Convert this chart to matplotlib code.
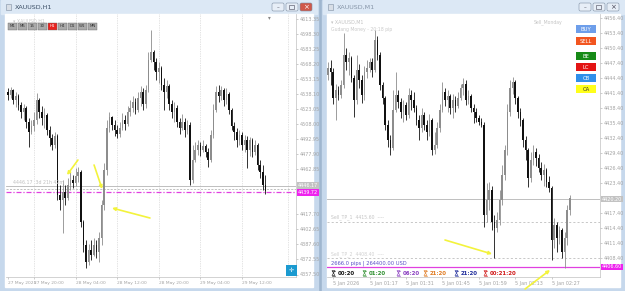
import matplotlib
matplotlib.use('Agg')
import matplotlib.pyplot as plt
import matplotlib.patches as patches
import numpy as np

W, H = 625, 291

# ---------------- XAUUSD,H1 (left window) ----------------
h1_open0 = 4540
h1_close = [4537, 4542, 4532, 4536, 4527, 4520, 4524, 4510, 4500, 4506,
            4512, 4532, 4520, 4514, 4517, 4502, 4494, 4487, 4496, 4437,
            4432, 4440, 4434, 4447, 4452, 4449, 4456, 4460, 4410, 4387,
            4370, 4382, 4377, 4387, 4380, 4394, 4427, 4462, 4504, 4515,
            4507, 4502, 4498, 4504, 4512, 4508, 4520, 4524, 4530, 4522,
            4534, 4540, 4528, 4542, 4572, 4580, 4570, 4560, 4564, 4547,
            4540, 4546, 4528, 4520, 4524, 4510, 4504, 4510, 4502, 4507,
            4452, 4472, 4482, 4487, 4482, 4486, 4480, 4472, 4497, 4522,
            4540, 4536, 4542, 4532, 4538, 4522, 4506, 4500, 4492, 4497,
            4487, 4492, 4482, 4492, 4480, 4487, 4467, 4460, 4447, 4441]
h1_high = [4544, 4545, 4543, 4540, 4538, 4530, 4528, 4526, 4514, 4512,
           4520, 4539, 4534, 4526, 4524, 4519, 4506, 4498, 4500, 4498,
           4447, 4452, 4447, 4454, 4460, 4457, 4464, 4465, 4462, 4412,
           4392, 4388, 4392, 4394, 4392, 4400, 4432, 4469, 4512, 4520,
           4516, 4512, 4507, 4510, 4519, 4517, 4526, 4532, 4536, 4534,
           4540, 4546, 4544, 4547, 4580, 4602, 4582, 4574, 4570, 4566,
           4554, 4552, 4548, 4532, 4530, 4527, 4514, 4518, 4514, 4512,
           4510, 4487, 4490, 4492, 4490, 4492, 4488, 4484, 4502, 4528,
           4546, 4547, 4546, 4544, 4544, 4540, 4524, 4510, 4504, 4502,
           4500, 4497, 4496, 4495, 4494, 4492, 4489, 4472, 4467, 4457]
h1_low = [4532, 4534, 4528, 4525, 4522, 4514, 4512, 4504, 4485, 4498,
          4501, 4508, 4514, 4507, 4504, 4497, 4486, 4482, 4484, 4432,
          4422, 4399, 4427, 4432, 4442, 4444, 4446, 4450, 4405, 4380,
          4364, 4367, 4372, 4376, 4374, 4370, 4387, 4422, 4457, 4500,
          4502, 4496, 4494, 4495, 4502, 4502, 4506, 4516, 4520, 4518,
          4520, 4526, 4522, 4524, 4540, 4570, 4562, 4552, 4549, 4542,
          4522, 4534, 4522, 4514, 4510, 4505, 4498, 4502, 4495, 4498,
          4447, 4449, 4470, 4477, 4476, 4480, 4475, 4465, 4470, 4494,
          4520, 4530, 4532, 4526, 4528, 4518, 4502, 4492, 4485, 4487,
          4482, 4480, 4464, 4476, 4475, 4477, 4462, 4454, 4442, 4438]
h1_date_pos = [0, 10, 26, 42, 58, 74, 90]
h1_dates = ['27 May 2025', '27 May 20:00', '28 May 04:00', '28 May 12:00',
            '28 May 20:00', '29 May 04:00', '29 May 12:00']
h1_grey_level = 4446.17
h1_dash_level = 4443.00
h1_bid = 4439.72
h1_tf = ['M1', 'M5', '15', '30', 'H1', 'H4', 'D1', 'W1', 'MN']

# ---------------- XAUUSD,M1 (right window) ----------------
m1_open0 = 4445.0
m1_close = [4446.4, 4445.6, 4440.4, 4442.0, 4441.0, 4443.0, 4449.0, 4447.6, 4448.4, 4444.4,
            4440.0, 4446.0, 4444.0, 4441.0, 4445.6, 4446.4, 4447.6, 4446.0, 4452.0, 4449.0,
            4443.0, 4440.4, 4435.0, 4432.0, 4430.4, 4438.0, 4441.0, 4439.6, 4437.6, 4439.0,
            4437.0, 4441.0, 4440.0, 4438.4, 4436.0, 4434.4, 4437.0, 4435.0, 4433.6, 4436.0,
            4430.0, 4431.0, 4434.4, 4438.0, 4441.6, 4440.0, 4440.8, 4438.4, 4440.0, 4438.8,
            4440.4, 4442.4, 4443.2, 4440.0, 4440.8, 4438.4, 4437.6, 4436.4, 4435.6, 4435.0,
            4417.0, 4420.0, 4422.0, 4415.6, 4414.4, 4416.0, 4420.0, 4425.0, 4430.0, 4437.6,
            4442.4, 4443.6, 4440.4, 4437.6, 4436.0, 4432.0, 4430.0, 4424.4, 4428.0, 4429.6,
            4428.4, 4426.4, 4425.0, 4426.0, 4423.6, 4422.4, 4412.0, 4415.0, 4412.4, 4414.0,
            4409.6, 4412.4, 4418.0, 4420.4]
m1_high = [4447.6, 4448.0, 4446.4, 4443.2, 4442.8, 4444.0, 4453.4, 4450.4, 4449.6, 4448.8,
           4445.0, 4449.0, 4447.2, 4445.0, 4446.8, 4448.0, 4448.4, 4448.4, 4454.0, 4452.8,
           4449.6, 4443.6, 4440.8, 4436.0, 4433.0, 4442.0, 4445.6, 4442.0, 4440.4, 4440.0,
           4439.6, 4442.4, 4442.0, 4441.6, 4439.0, 4437.0, 4438.4, 4437.6, 4436.0, 4437.2,
           4436.4, 4433.6, 4435.6, 4439.2, 4443.6, 4442.4, 4442.0, 4441.2, 4441.2, 4440.8,
           4441.6, 4443.2, 4444.4, 4444.0, 4442.0, 4441.2, 4439.2, 4438.4, 4437.0, 4436.4,
           4435.6, 4423.4, 4423.6, 4422.8, 4417.0, 4417.6, 4422.0, 4427.0, 4431.0, 4439.2,
           4444.0, 4444.6, 4444.0, 4440.8, 4438.4, 4436.4, 4432.8, 4430.4, 4429.6, 4431.0,
           4430.4, 4429.2, 4427.6, 4427.2, 4426.4, 4424.8, 4422.8, 4416.4, 4415.6, 4414.8,
           4414.4, 4413.6, 4419.0, 4421.0]
m1_low = [4444.0, 4443.0, 4439.2, 4436.0, 4440.0, 4440.4, 4442.4, 4446.0, 4445.0, 4443.6,
          4436.6, 4439.2, 4442.4, 4439.4, 4440.0, 4444.4, 4445.6, 4444.6, 4445.6, 4448.0,
          4442.0, 4439.2, 4434.0, 4430.6, 4429.0, 4430.0, 4437.6, 4438.4, 4436.4, 4435.6,
          4436.0, 4436.4, 4438.0, 4437.6, 4435.0, 4432.0, 4433.6, 4434.0, 4432.0, 4432.8,
          4429.0, 4429.2, 4430.4, 4433.6, 4437.6, 4438.8, 4437.6, 4437.2, 4436.4, 4437.6,
          4438.4, 4440.0, 4441.0, 4439.0, 4439.2, 4437.6, 4435.4, 4435.6, 4435.0, 4434.6,
          4414.6, 4415.6, 4418.0, 4414.0, 4408.4, 4413.6, 4415.0, 4419.0, 4424.0, 4429.0,
          4436.8, 4441.2, 4439.2, 4436.4, 4434.8, 4430.6, 4428.0, 4422.6, 4423.6, 4427.0,
          4426.8, 4425.6, 4424.0, 4422.8, 4422.6, 4421.6, 4408.0, 4410.4, 4409.6, 4411.2,
          4408.4, 4406.4, 4411.0, 4417.0]
m1_date_pos = [2, 16, 30, 44, 58, 72, 86]
m1_dates = ['5 Jan 2026', '5 Jan 01:17', '5 Jan 01:31', '5 Jan 01:45',
            '5 Jan 01:59', '5 Jan 02:13', '5 Jan 02:27']
m1_grey_level = 4420.20
m1_dash_levels = [4415.60, 4408.40]
m1_bid = 4406.60
m1_buttons = ['BUY', 'SELL', 'BE', 'LC', 'CB', 'CA']
m1_button_colors = ['#6d9eea', '#f2551f', '#168a16', '#e31414', '#2f8fea', '#ffff1a']
m1_timers = ['00:20', '01:20', '06:20', '21:20', '21:20', '00:21:20']
m1_timer_colors = ['#111111', '#2f8f2f', '#8a3fc0', '#e07a20', '#1d2a9a', '#d01515']

BULL = '#8d8d8d'
BEAR = '#111111'
GRID = '#c8c8c8'
LBL = '#a4a4a4'
SYM = ['DejaVu Sans', 'Noto Sans CJK JP', 'Noto Sans CJK SC']


def rect(x0, y0, x1, y1):
    return [x0 / W, 1 - y1 / H, (x1 - x0) / W, (y1 - y0) / H]


def draw_candles(ax, open0, closes, highs, lows, min_body):
    closes = np.array(closes, dtype=float)
    opens = np.r_[open0, closes[:-1]]
    idx = np.arange(len(closes))
    cols = np.where(closes >= opens, BULL, BEAR)
    ax.vlines(idx, lows, highs, colors=cols, lw=0.6, zorder=3)
    body = np.maximum(np.abs(closes - opens), min_body)
    ax.bar(idx, body, bottom=np.minimum(opens, closes), width=0.62,
           color=cols, lw=0, zorder=3)


def price_axis(ax, ticks, boxes, px_per_unit):
    # drop scale labels hidden under the coloured price boxes
    keep = [t for t in ticks if all(abs(t - b) * px_per_unit > 7 for b, _ in boxes)]
    ax.set_yticks(keep)
    ax.set_yticklabels(['%.2f' % v for v in keep])
    ax.yaxis.tick_right()
    for lvl, fc in boxes:
        ax.text(1.006, lvl, '%.2f' % lvl, transform=ax.get_yaxis_transform(), fontsize=3.5, color='white',
                va='center', ha='left', bbox=dict(fc=fc, ec='none', pad=0.7), zorder=6)


fig = plt.figure(figsize=(W / 100, H / 100), dpi=100)

# background / window frames
bg = fig.add_axes([0, 0, 1, 1])
bg.set_xlim(0, W)
bg.set_ylim(H, 0)
bg.axis('off')
bg.add_patch(patches.Rectangle((0, 0), W, H, color='#9fb6cf'))
for x0, x1, title, tcol in [(0, 318, 'XAUUSD,H1', '#3c4f66'), (322, 625, 'XAUUSD,M1', '#8796a8')]:
    bg.add_patch(patches.Rectangle((x0, 0), x1 - x0, H, color='#c6d8ec'))
    bg.add_patch(patches.Rectangle((x0 + 1, 0), x1 - x0 - 2, 14, color='#dce8f5'))
    bg.add_patch(patches.Rectangle((x0 + 5, 14), x1 - x0 - 10, 273, color='white'))
    bg.add_patch(patches.Rectangle((x0 + 6, 4), 5, 6, fc='#d8dee6', ec='#7f8fa3', lw=0.4))
    bg.text(x0 + 15, 7, title, fontsize=4.6, color=tcol, va='center')
    bx = x1 - 46
    for k, fc in enumerate(['#e7eef7', '#e7eef7', '#d0584a' if x0 == 0 else '#e7eef7']):
        bg.add_patch(patches.FancyBboxPatch((bx + k * 14, 3), 12, 8, boxstyle='round,pad=0,rounding_size=1.5',
                                            fc=fc, ec='#7d8ea3', lw=0.4))
    bg.text(bx + 6, 7.5, '\u2013', fontsize=4, color='#445', ha='center', va='center')
    bg.add_patch(patches.Rectangle((bx + 17, 5), 5, 4, fc='none', ec='#445', lw=0.4))
    bg.text(bx + 34, 7, '\u00d7', fontsize=5, color='white' if x0 == 0 else '#445', ha='center', va='center')

# ---------------- left chart ----------------
ax1 = fig.add_axes(rect(6, 14, 296, 277))
ax1.set_facecolor('none')
ax1.set_xlim((6 - 8) / 2.6, (296 - 8) / 2.6)
ax1.set_ylim(4632 - 277, 4632 - 14)
draw_candles(ax1, h1_open0, h1_close, h1_high, h1_low, 0.8)
for p in h1_date_pos[1:] + [107.7]:
    ax1.axvline(p, color=GRID, lw=0.5, ls=(0, (1, 1.5)), zorder=1)
ax1.axhline(h1_grey_level, color='#b4b4b4', lw=0.6, zorder=2)
ax1.axhline(h1_dash_level, color='#a8a8a8', lw=0.5, ls=(0, (3, 2)), zorder=2)
ax1.axhline(h1_bid, color='#e040e0', lw=0.9, ls=(0, (4, 1.5, 1, 1.5)), zorder=2)
ax1.text(2, h1_grey_level + 1, '4446.17  3d 21h 42m', fontsize=3.4, color='#c0c0c0', va='bottom')
ax1.text(2, 4611, '\u25be XAUUSD,H1', fontsize=3.4, color='#c8c8c8', va='center')
ax1.text(100, 4614, '\u25be', fontsize=4, color='#888', va='center')

price_axis(ax1, list(4613.35 - 15.05 * np.arange(18)),
           [(h1_grey_level, '#c2c2c2'), (h1_bid, '#ee22ee')], 1.0)
ax1.set_xticks(h1_date_pos)
ax1.set_xticklabels(h1_dates, ha='left')
ax1.tick_params(axis='both', labelsize=3.5, colors=LBL, length=1.5, width=0.4, pad=1.5)
ax1.tick_params(axis='x', labelsize=3.2)
for s in ['top', 'left']:
    ax1.spines[s].set_visible(False)
for s in ['right', 'bottom']:
    ax1.spines[s].set_color('#c0c0c0')
    ax1.spines[s].set_linewidth(0.5)

# ---------------- right chart ----------------
ax2 = fig.add_axes(rect(327, 14, 600, 277))
ax2.set_facecolor('none')
ax2.set_xlim((327 - 328) / 2.6, (600 - 328) / 2.6)
ax2.set_ylim(4460 - 277 / 5, 4460 - 14 / 5)
draw_candles(ax2, m1_open0, m1_close, m1_high, m1_low, 0.16)
ax2.axhline(m1_grey_level, color='#b4b4b4', lw=0.6, zorder=2)
for lvl in m1_dash_levels:
    ax2.axhline(lvl, color='#b0b0b0', lw=0.5, ls=(0, (3, 3)), zorder=2)
ax2.axhline(m1_bid, color='#e040e0', lw=0.9, zorder=2)
ax2.text(1, m1_dash_levels[0] + 0.3, 'Sell_TP_1  4415.60  ----', fontsize=3.3, color='#c4c4c4', va='bottom')
ax2.text(1, m1_dash_levels[1] + 0.3, 'Sell_TP_2  4408.40  ----', fontsize=3.3, color='#d0d0d0', va='bottom')
ax2.text(1, 4455.6, '\u25be XAUUSD,M1', fontsize=3.4, color='#c4c4c4', va='center')
ax2.text(1, 4454.0, 'Gudang Money - 20:18 pip', fontsize=3.3, color='#cacaca', va='center')
ax2.text(90, 4455.6, 'Sell_Monday', fontsize=3.3, color='#c4c4c4', va='center', ha='right')
ax2.text(1, m1_bid + 0.25, '2666.0 pips | 264400.00 USD', fontsize=3.7, color='#5a4fc8', va='bottom')

price_axis(ax2, list(4456.40 - 3.0 * np.arange(18)),
           [(m1_grey_level, '#c2c2c2'), (m1_bid, '#ee22ee')], 5.0)
ax2.set_xticks(m1_date_pos)
ax2.set_xticklabels(m1_dates, ha='left')
ax2.tick_params(axis='both', labelsize=3.5, colors=LBL, length=1.5, width=0.4, pad=1.5)
for s in ['top', 'left']:
    ax2.spines[s].set_visible(False)
for s in ['right', 'bottom']:
    ax2.spines[s].set_color('#c0c0c0')
    ax2.spines[s].set_linewidth(0.5)

# yellow arrows
arrow = dict(arrowstyle='-|>', color='#f3f33c', lw=1.2, mutation_scale=4.5, shrinkA=0, shrinkB=0)
for tail, head in [((26.9, 4472), (22.7, 4457)), ((33.1, 4467), (36.2, 4443)), ((54.6, 4414), (40.0, 4424))]:
    ax1.annotate('', xy=head, xytext=tail, arrowprops=arrow, zorder=8, annotation_clip=False)
for tail, head in [((45.0, 4412.0), (63.1, 4409.2)), ((75.8, 4402.2), (85.4, 4406.0))]:
    ax2.annotate('', xy=head, xytext=tail, arrowprops=arrow, zorder=8, annotation_clip=False)

# overlay: toolbar buttons, timers and navigation icon
ov = fig.add_axes([0, 0, 1, 1], zorder=10)
ov.set_xlim(0, W)
ov.set_ylim(H, 0)
ov.axis('off')
ov.patch.set_alpha(0)
for k, tf in enumerate(h1_tf):
    fc = '#e8231f' if tf == 'H1' else '#aaaaaa'
    ov.add_patch(patches.Rectangle((8 + k * 10, 23), 9, 6.5, fc=fc, ec='#6a6a6a', lw=0.3))
    ov.text(12.5 + k * 10, 26.4, tf, fontsize=2.9, color='white' if tf == 'H1' else '#333333',
            ha='center', va='center')
btn_y = [25, 37, 52, 63, 74, 85]
for lab, fc, y0 in zip(m1_buttons, m1_button_colors, btn_y):
    ov.add_patch(patches.Rectangle((576, y0), 20, 8, fc=fc, ec='none'))
    ov.text(586, y0 + 4.2, lab, fontsize=3.8, color='#333' if lab == 'CA' else 'white', ha='center', va='center')
ov.add_patch(patches.Rectangle((286, 265), 11, 11, fc='#1b9ad0', ec='none'))
ov.text(291.5, 270.7, '\u271b', fontsize=4.5, color='white', ha='center', va='center', family=SYM)

# timers (hourglass drawn as a small shape: no installed font has the glyph)
timer_x = [332, 363, 397, 424, 455, 484]
for t, c, x in zip(m1_timers, m1_timer_colors, timer_x):
    ov.add_patch(patches.Polygon([(x, 270.5), (x + 3, 270.5), (x, 275.5), (x + 3, 275.5)],
                                 closed=True, fc='none', ec=c, lw=0.5, alpha=0.8))
    ov.plot([x - 0.3, x + 3.3], [270.5, 270.5], color=c, lw=0.5, alpha=0.8)
    ov.plot([x - 0.3, x + 3.3], [275.5, 275.5], color=c, lw=0.5, alpha=0.8)
    ov.text(x + 6, 273.2, t, fontsize=3.9, color=c, va='center', ha='left', fontweight='bold')

fig.savefig('out.png', dpi=100)
